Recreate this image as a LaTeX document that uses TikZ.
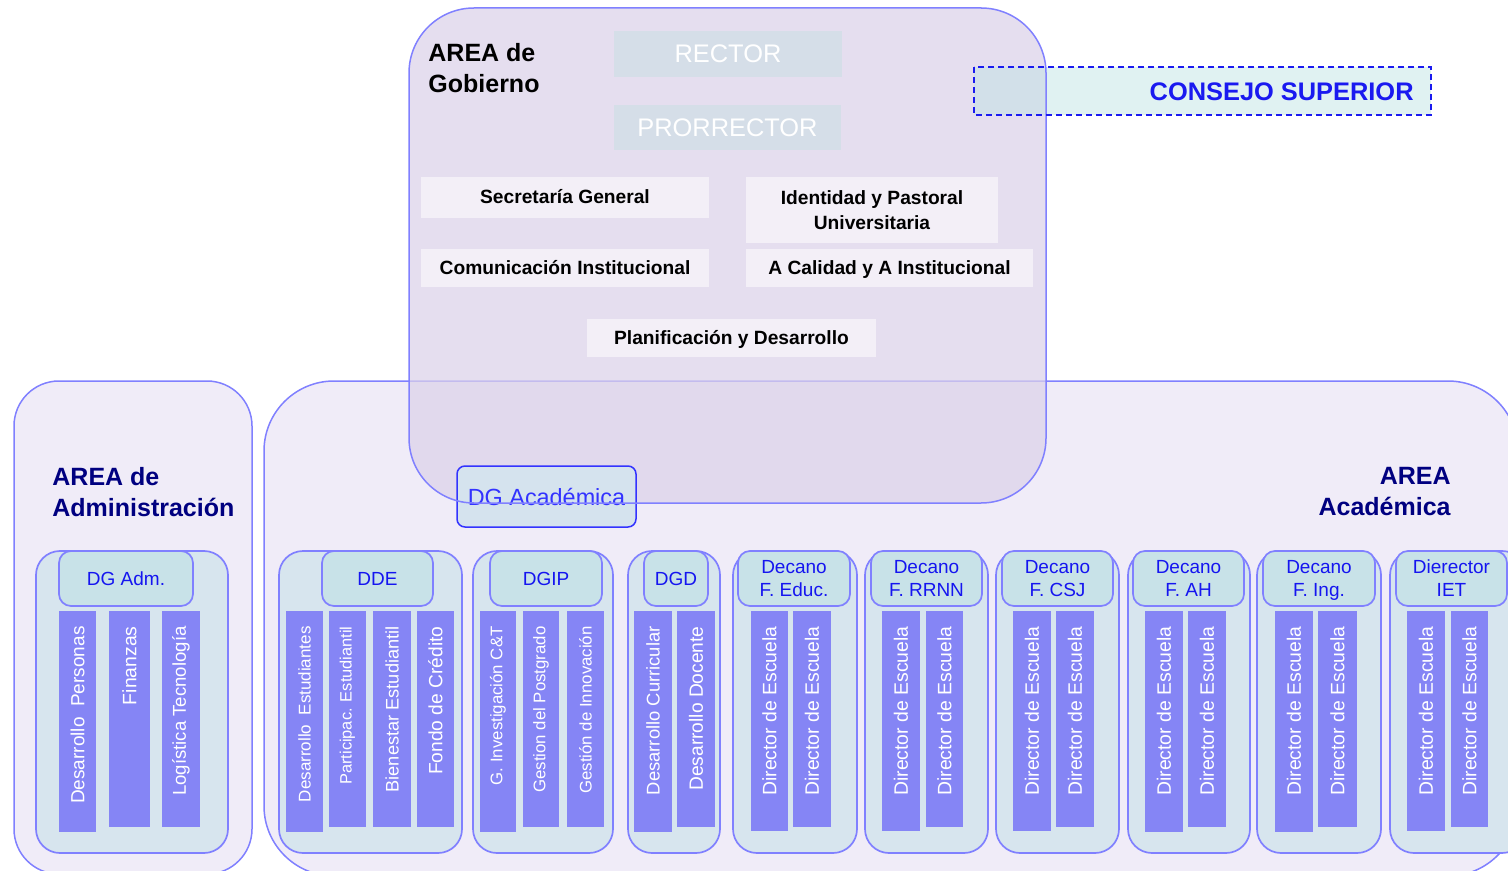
\documentclass[tikz,border=0pt]{standalone}
\usepackage{fontspec}
\setmainfont{Liberation Sans}
\definecolor{bordc}{HTML}{8080FF}
\definecolor{areaf}{HTML}{F0ECF8}
\definecolor{gobf}{HTML}{DCD2E9}
\definecolor{topf}{HTML}{D5DEE8}
\definecolor{innf}{HTML}{F3EFF7}
\definecolor{consf}{HTML}{BBE3E3}
\definecolor{consb}{HTML}{1A1AF0}
\definecolor{dgaf}{HTML}{D5E3EE}
\definecolor{dgab}{HTML}{3333FF}
\definecolor{grpf}{HTML}{D7E5EE}
\definecolor{hdrf}{HTML}{C8E2E8}
\definecolor{barf}{HTML}{8585F5}
\definecolor{hdrt}{HTML}{1515F0}
\definecolor{navyc}{HTML}{000080}
\newcommand{\pbox}[7]{%
  \node[#2, minimum width={(#5-#3)*0.5pt}, minimum height={(#6-#4)*0.5pt}] (#1) at ({(#3+#5)/2},{(#4+#6)/2}) {#7};}
\newcommand{\pbar}[6]{%
  \pbox{#1}{barbox}{#2}{611}{#3}{#4}{}
  \node[bartxt, font=\fontsize{#5}{#5}\selectfont] (#1t) at ({(#2+#3)/2},626) {#6};}
\newcommand{\vph}{\vphantom{Óg}}
\begin{document}
\begin{tikzpicture}[x=0.5pt,y=-0.5pt,
  area/.style={draw=bordc, fill=areaf, line width=0.75pt},
  grp/.style={draw=bordc, fill=grpf, rounded corners=12pt, line width=0.85pt, inner sep=0pt, outer sep=0pt},
  hdr/.style={draw=bordc, fill=hdrf, rounded corners=6pt, line width=0.85pt, inner sep=0pt, outer sep=0pt, text=hdrt, align=center, font=\fontsize{9.5}{11.5}\selectfont},
  barbox/.style={fill=barf, inner sep=0pt, outer sep=0pt},
  bartxt/.style={text=white, rotate=90, anchor=east, inner sep=0pt},
  topbox/.style={fill=topf, text=white, inner sep=0pt, outer sep=0pt, font=\fontsize{12.7}{14}\selectfont},
  innbox/.style={fill=innf, inner sep=0pt, outer sep=0pt, align=center, font=\bfseries\fontsize{9.6}{12.5}\selectfont},
  arealbl/.style={inner sep=0pt, font=\bfseries\fontsize{12.5}{15.5}\selectfont},
]
\useasboundingbox (0,0) rectangle (1508,871);
\clip (0,0) rectangle (1508,871);

% areas
\draw[area, rounded corners=22.5pt] (14,381) rectangle (252,874);
\draw[area, rounded corners=35pt] (264,381) rectangle (1518,876);
\fill[gobf, fill opacity=0.73, rounded corners=32.5pt] (409,8) rectangle (1046,503);

% consejo
\fill[consf, fill opacity=0.45] (974,67) rectangle (1431,115);

% gobierno boxes
\pbox{rector}{topbox}{614}{31}{842}{77}{RECTOR}
\pbox{prorrector}{topbox}{614}{105}{841}{150}{PRORRECTOR}
\pbox{secgen}{innbox}{421}{177}{709}{218}{\vph Secretaría General}
\pbox{identidad}{innbox}{746}{177}{998}{243}{Identidad y Pastoral\\Universitaria}
\pbox{comunic}{innbox}{421}{249}{709}{287}{\vph Comunicación Institucional}
\pbox{calidad}{innbox}{746}{249}{1033}{287}{\vph A Calidad y A Institucional}
\pbox{planif}{innbox}{587}{319}{876}{357}{\vph Planificación y Desarrollo}

% DG Academica
\pbox{dgacad}{draw=dgab, fill=dgaf, line width=0.75pt, rounded corners=4pt, inner sep=0pt, text=dgab, font=\fontsize{11.7}{14}\selectfont}{457}{466}{636}{527}{DG Académica}

% gobierno border on top
\draw[bordc, line width=0.75pt, rounded corners=32.5pt] (409,8) rectangle (1046,503);
\draw[consb, line width=0.8pt, dash pattern=on 3pt off 2pt] (974,67) rectangle (1431,115);
\node[anchor=east, inner sep=0pt, text=consb, font=\bfseries\fontsize{12.7}{14}\selectfont] (consejo) at (1414,92) {CONSEJO SUPERIOR};

% area labels
\node[arealbl, anchor=north west, align=left] (gob) at (428,43) {AREA de\\Gobierno};
\node[arealbl, anchor=north west, align=left, text=navyc] (adm) at (52,467) {AREA de\\Administración};
\node[arealbl, anchor=north east, align=right, text=navyc] (acad) at (1451,467) {AREA\\Académica};

% groups
\pbox{g1}{grp}{36}{551}{228}{853}{}
\pbox{h1}{hdr}{59}{551}{193}{606}{DG Adm.}
\pbar{b11}{59}{96}{832}{9.5}{Desarrollo~~Personas}
\pbar{b12}{109}{150}{827}{9.7}{Finanzas}
\pbar{b13}{162}{200}{827}{9.3}{Logística Tecnología}

\pbox{g2}{grp}{279}{551}{462}{853}{}
\pbox{h2}{hdr}{322}{551}{433}{606}{DDE}
\pbar{b21}{286}{323}{832}{8.5}{Desarrollo~~Estudiantes}
\pbar{b22}{329}{366}{827}{8.2}{Participac. Estudiantil}
\pbar{b23}{373}{411}{827}{9.1}{Bienestar Estudiantil}
\pbar{b24}{417}{454}{827}{9.6}{Fondo de Crédito}

\pbox{g3}{grp}{473}{551}{613}{853}{}
\pbox{h3}{hdr}{490}{551}{602}{606}{DGIP}
\pbar{b31}{480}{516}{832}{8.4}{G. Investigación C\&T}
\pbar{b32}{523}{559}{827}{8.4}{Gestion del Postgrado}
\pbar{b33}{567}{604}{827}{8.4}{Gestión de Innovación}

\pbox{g4}{grp}{628}{551}{720}{853}{}
\pbox{h4}{hdr}{644}{551}{708}{606}{DGD}
\pbar{b41}{634}{672}{832}{9.2}{Desarrollo Curricular}
\pbar{b42}{677}{715}{827}{9.6}{Desarrollo Docente}

\pbox{g5}{grp}{733}{551}{857}{853}{}
\pbox{h5}{hdr}{738}{551}{850}{606}{Decano\\F. Educ.}
\pbar{b51}{751}{788}{831}{9.7}{Director de Escuela}
\pbar{b52}{793}{831}{827}{9.7}{Director de Escuela}

\pbox{g6}{grp}{865}{551}{988}{853}{}
\pbox{h6}{hdr}{871}{551}{982}{606}{Decano\\F. RRNN}
\pbar{b61}{882}{920}{831}{9.7}{Director de Escuela}
\pbar{b62}{926}{963}{827}{9.7}{Director de Escuela}

\pbox{g7}{grp}{996}{551}{1119}{853}{}
\pbox{h7}{hdr}{1002}{551}{1113}{606}{Decano\\F. CSJ}
\pbar{b71}{1013}{1051}{831}{9.7}{Director de Escuela}
\pbar{b72}{1056}{1094}{827}{9.7}{Director de Escuela}

\pbox{g8}{grp}{1128}{551}{1250}{853}{}
\pbox{h8}{hdr}{1133}{551}{1244}{606}{Decano\\F. AH}
\pbar{b81}{1145}{1183}{832}{9.7}{Director de Escuela}
\pbar{b82}{1188}{1226}{827}{9.7}{Director de Escuela}

\pbox{g9}{grp}{1257}{551}{1381}{853}{}
\pbox{h9}{hdr}{1263}{551}{1375}{606}{Decano\\F. In\smash{g}.}
\pbar{b91}{1275}{1313}{832}{9.7}{Director de Escuela}
\pbar{b92}{1318}{1357}{827}{9.7}{Director de Escuela}

\pbox{g10}{grp}{1390}{551}{1526}{853}{}
\pbox{h10}{hdr}{1396}{551}{1507}{606}{Dierector\\IET}
\pbar{b101}{1407}{1445}{831}{9.7}{Director de Escuela}
\pbar{b102}{1451}{1488}{827}{9.7}{Director de Escuela}
\end{tikzpicture}
\end{document}
